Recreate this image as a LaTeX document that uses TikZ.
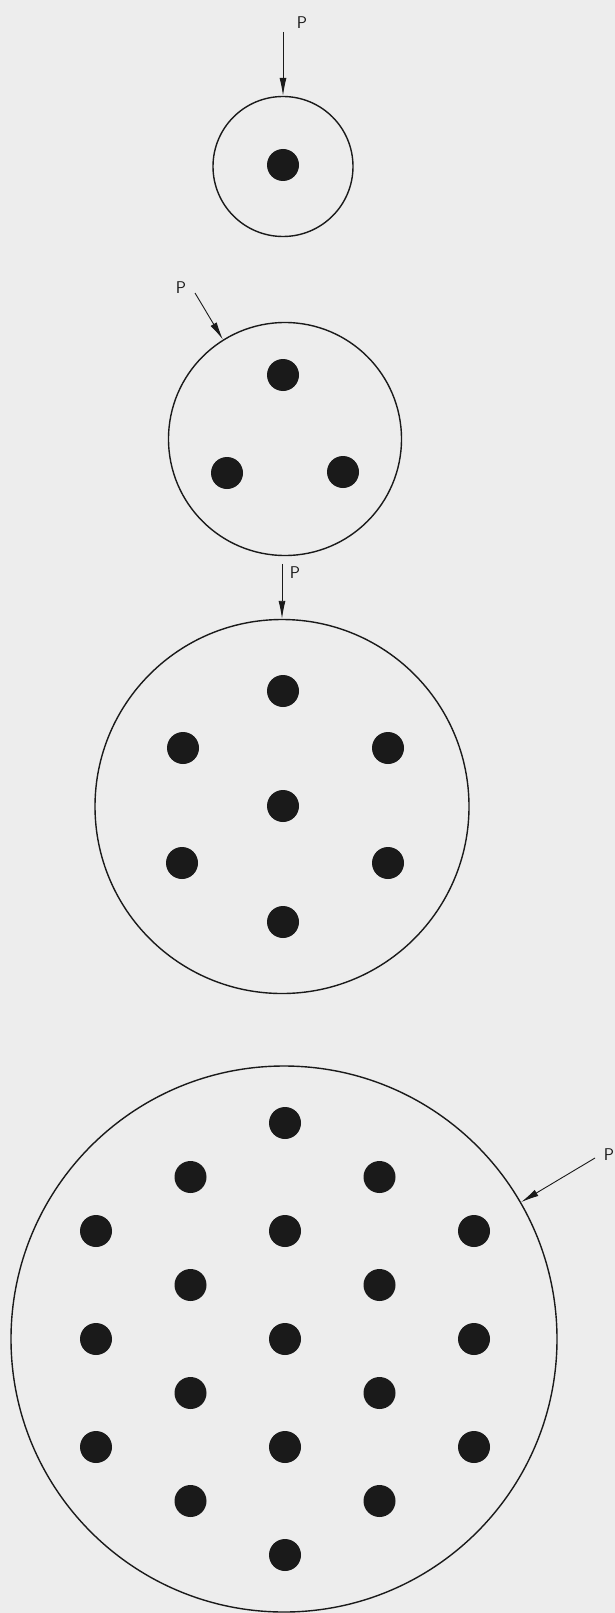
\documentclass[tikz,border=0pt]{standalone}
\usepackage{tikz}
\usetikzlibrary{arrows.meta,positioning}
\definecolor{paper}{HTML}{EDEDED}
\definecolor{ink}{HTML}{1A1A1A}

\begin{document}
\begin{tikzpicture}[x=1pt,y=-1pt,
  vessel/.style={circle,draw=ink,line width=1.4pt,inner sep=0pt,minimum size=#1},
  rod/.style={circle,fill=ink,inner sep=0pt,minimum size=32pt},
  load/.style={draw=ink,line width=0.9pt,-{Latex[length=18pt,width=7pt]}},
  plab/.style={font=\sffamily\fontsize{17}{17}\selectfont,text=ink,inner sep=0pt}]
\fill[paper] (0,0) rectangle (615,1613);
\useasboundingbox (0,0) rectangle (615,1613);
% 1 rod, load from the top
\node[vessel=140pt] (v1) at (283,166.5) {};
\node[rod] (v1r1) at (283,165) {};
\coordinate[above=64pt of v1.north] (v1p);
\draw[load] (v1p) -- (v1.north);
\node[plab] (v1l) at (302,23) {P};
% 3 rods, load from upper left
\node[vessel=233pt] (v2) at (285,439) {};
\foreach \x/\y [count=\n] in {283/375, 227/473, 343/472}
  \node[rod] (v2r\n) at (\x,\y) {};
\coordinate (v2p) at (195,293);
\draw[load] (v2p) -- (v2.122);
\node[plab] (v2l) at (181,288) {P};
% 7 rods, load from the top
\node[vessel=374pt] (v3) at (282,806.5) {};
\foreach \x/\y [count=\n] in {283/691, 183/748, 388/748, 283/806, 182/863, 388/863, 283/922}
  \node[rod] (v3r\n) at (\x,\y) {};
\coordinate[above=55pt of v3.north] (v3p);
\draw[load] (v3p) -- (v3.north);
\node[plab] (v3l) at (295,573) {P};
% 19 rods, load from upper right
\node[vessel=546pt] (v4) at (284,1339) {};
\foreach \x/\y [count=\n] in {285/1123, 285/1231, 285/1339, 285/1447, 285/1555,
    190.5/1177, 190.5/1285, 190.5/1393, 190.5/1501,
    379.5/1177, 379.5/1285, 379.5/1393, 379.5/1501,
    96/1231, 96/1339, 96/1447, 474/1231, 474/1339, 474/1447}
  \node[rod] (v4r\n) at (\x,\y) {};
\coordinate (v4p) at (595,1158);
\draw[load] (v4p) -- (v4.30);
\node[plab] (v4l) at (609,1155) {P};
\end{tikzpicture}
\end{document}
